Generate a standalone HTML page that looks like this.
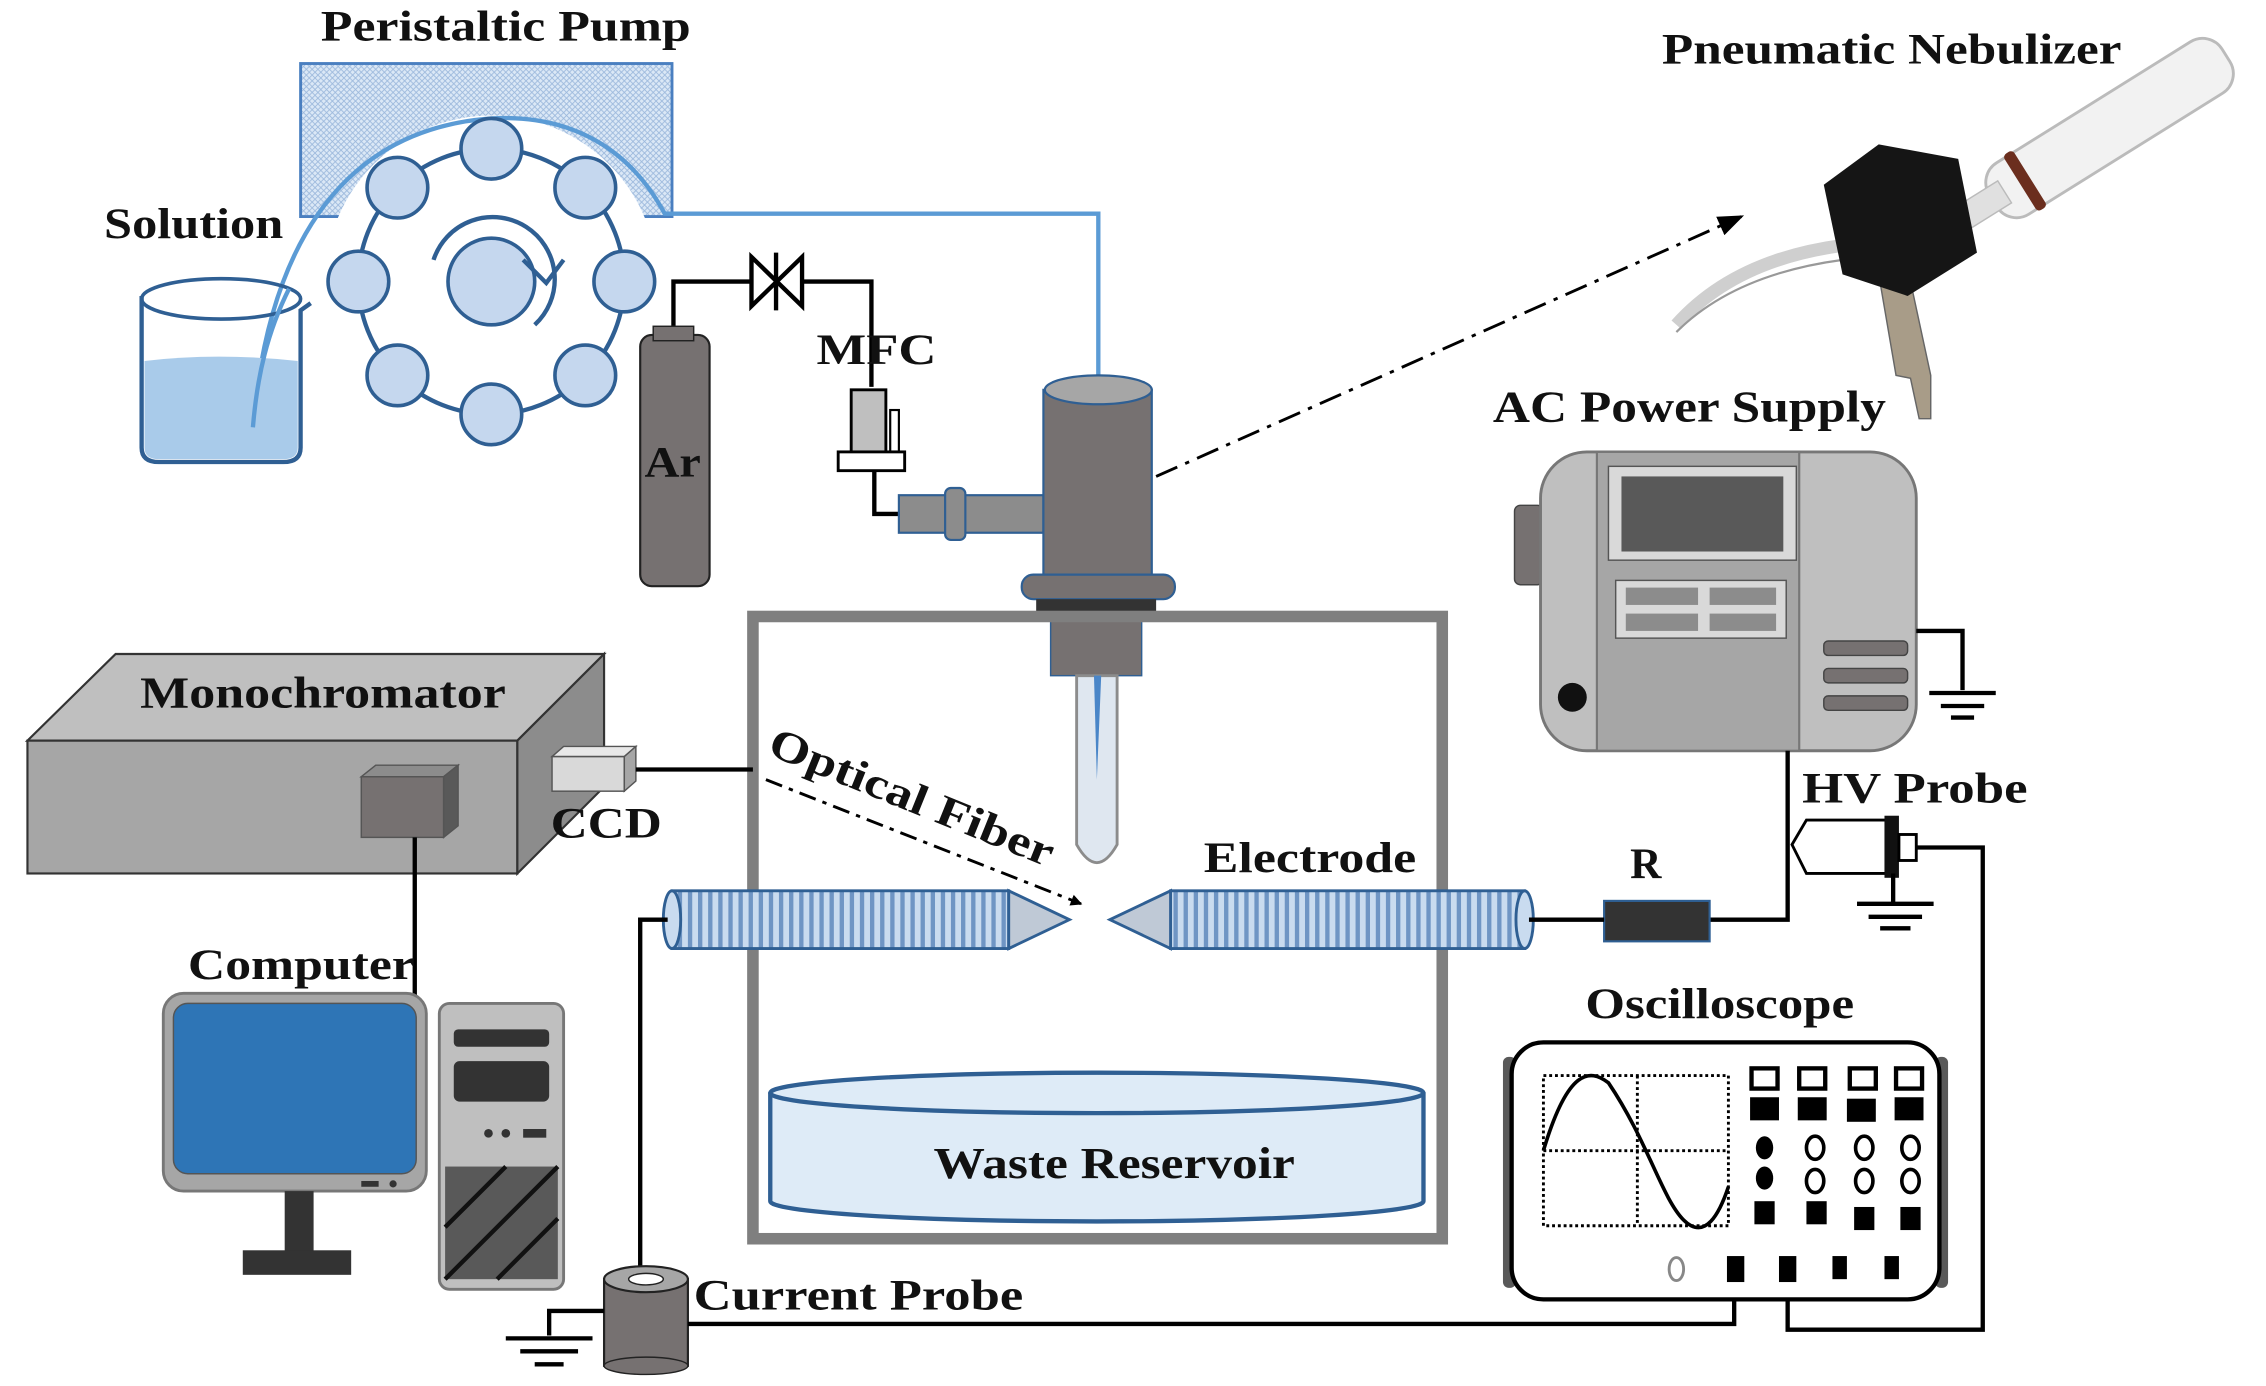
<!DOCTYPE html>
<html><head><meta charset="utf-8"><style>
html,body{margin:0;padding:0;background:#fff;}
svg{display:block}
text{font-family:"Liberation Serif",serif;font-weight:bold;fill:#111}
</style></head><body>
<svg width="2266" height="1386" viewBox="0 0 1568 960" preserveAspectRatio="none" xmlns="http://www.w3.org/2000/svg">
<defs>
<pattern id="hatch" width="4" height="4" patternUnits="userSpaceOnUse"><rect width="4" height="4" fill="#dbe8f6"/><path d="M0 0L4 4M4 0L0 4" stroke="#9bb8dc" stroke-width="0.6"/></pattern>
<pattern id="coil" width="7" height="40" patternUnits="userSpaceOnUse"><rect width="7" height="40" fill="#c9dbef"/><rect x="0" width="3" height="40" fill="#6f95c4"/></pattern>
<marker id="ah" markerWidth="8" markerHeight="8" refX="7" refY="4" orient="auto" markerUnits="userSpaceOnUse"><path d="M0 0L8 4L0 8z" fill="#000"/></marker>
<marker id="ah2" markerWidth="18" markerHeight="14" refX="16" refY="7" orient="auto" markerUnits="userSpaceOnUse"><path d="M0 0L18 7L0 14z" fill="#000"/></marker>
</defs>
<!-- Peristaltic pump -->
<rect x="208" y="44" width="257" height="106" fill="url(#hatch)" stroke="#4a7fc0" stroke-width="2"/>
<circle cx="340" cy="195" r="115" fill="#fff"/>
<path d="M175 295 C185 180 230 90 340 82 C420 78 450 130 460 148 L760 148 L760 262" fill="none" stroke="#5b9bd5" stroke-width="3"/>
<text x="222" y="28" font-size="30" textLength="256" lengthAdjust="spacingAndGlyphs">Peristaltic Pump</text>
<circle cx="340" cy="195" r="92" fill="none" stroke="#2f5f93" stroke-width="3"/>
<g fill="#c5d7ee" stroke="#2f5f93" stroke-width="2.5">
<circle cx="340" cy="103" r="21"/><circle cx="405" cy="130" r="21"/><circle cx="432" cy="195" r="21"/><circle cx="405" cy="260" r="21"/>
<circle cx="340" cy="287" r="21"/><circle cx="275" cy="260" r="21"/><circle cx="248" cy="195" r="21"/><circle cx="275" cy="130" r="21"/>
<circle cx="340" cy="195" r="30"/></g>
<path d="M300 180 A43 43 0 1 1 370 225" fill="none" stroke="#2f5f93" stroke-width="3"/>
<path d="M362 180 L378 196 L390 180" fill="none" stroke="#2f5f93" stroke-width="3"/>
<!-- Beaker -->
<text x="72" y="165" font-size="30" textLength="124" lengthAdjust="spacingAndGlyphs">Solution</text>
<path d="M98 205 L98 310 Q98 320 110 320 L196 320 Q208 320 208 310 L208 215 L215 210" fill="none" stroke="#2f5f93" stroke-width="3"/>
<path d="M100 250 Q150 244 206 250 L206 310 Q206 318 196 318 L110 318 Q100 318 100 310Z" fill="#a9cbea"/>
<ellipse cx="153" cy="207" rx="55" ry="14" fill="none" stroke="#2f5f93" stroke-width="2.5"/>
<path d="M175 296 C178 260 185 230 200 200" fill="none" stroke="#5b9bd5" stroke-width="3"/>
<!-- Ar & MFC -->
<path d="M466 230 L466 195 L603 195 L603 268" fill="none" stroke="#000" stroke-width="3"/>
<path d="M520 178 L555 212 L555 178 L520 212Z" fill="#fff" stroke="#000" stroke-width="3"/>
<line x1="537" y1="175" x2="537" y2="215" stroke="#000" stroke-width="3"/>
<rect x="443" y="232" width="48" height="174" rx="8" fill="#767171" stroke="#222" stroke-width="1.5"/>
<rect x="452" y="226" width="28" height="10" fill="#767171" stroke="#222"/>
<text x="446" y="330" font-size="30" textLength="39" lengthAdjust="spacingAndGlyphs">Ar</text>
<text x="565" y="252" font-size="30" font-weight="normal" textLength="83" lengthAdjust="spacingAndGlyphs">MFC</text>
<rect x="589" y="270" width="24" height="44" fill="#bfbfbf" stroke="#000" stroke-width="2"/>
<rect x="616" y="284" width="6" height="30" fill="#fff" stroke="#000" stroke-width="1.5"/>
<rect x="580" y="313" width="46" height="13" fill="#fff" stroke="#000" stroke-width="2"/>
<path d="M605 326 L605 356 L624 356" fill="none" stroke="#000" stroke-width="3"/>
<rect x="622" y="343" width="100" height="26" fill="#8c8c8c" stroke="#2f5f93" stroke-width="1.5"/>
<rect x="654" y="338" width="14" height="36" rx="4" fill="#8c8c8c" stroke="#2f5f93" stroke-width="1.5"/>
<!-- nebulizer body -->
<rect x="722" y="270" width="75" height="130" fill="#767171" stroke="#2f5f93" stroke-width="1.5"/>
<ellipse cx="760" cy="270" rx="37" ry="10" fill="#a6a6a6" stroke="#2f5f93" stroke-width="1.5"/>
<rect x="707" y="398" width="106" height="17" rx="8" fill="#767171" stroke="#2f5f93" stroke-width="1.5"/>
<rect x="717" y="415" width="83" height="13" fill="#333"/>
<rect x="727" y="428" width="63" height="40" fill="#767171" stroke="#2f5f93" stroke-width="1"/>
<path d="M745 468 L745 585 Q759 610 773 585 L773 468Z" fill="#dfe7f0" stroke="#8c8c8c" stroke-width="2"/>
<path d="M757 468 L759 540 L762 468Z" fill="#4a86c8"/>
<!-- dashed arrow to photo -->
<line x1="800" y1="330" x2="1205" y2="150" stroke="#000" stroke-width="2" stroke-dasharray="16,6,3,6" marker-end="url(#ah2)"/>
<!-- nebulizer photo -->
<path d="M1160 225 Q1200 180 1275 170" fill="none" stroke="#cfcfcf" stroke-width="9"/>
<path d="M1160 230 Q1200 190 1275 180" fill="none" stroke="#999" stroke-width="1.5"/>
<g transform="rotate(-32 1420 110)">
<rect x="1370" y="92" width="190" height="42" rx="16" fill="#f2f2f2" stroke="#bbb" stroke-width="2"/>
<rect x="1330" y="103" width="50" height="18" fill="#e0e0e0" stroke="#bbb"/>
<rect x="1392" y="90" width="8" height="46" rx="3" fill="#6b2e1e"/>
</g>
<path d="M1300 190 L1312 260 L1322 262 L1328 290 L1336 290 L1336 260 L1322 195Z" fill="#a89c88" stroke="#666"/>
<path d="M1262 128 L1300 100 L1355 110 L1368 175 L1320 205 L1275 190 Z" fill="#151515"/>
<text x="1150" y="44" font-size="30" textLength="318" lengthAdjust="spacingAndGlyphs">Pneumatic Nebulizer</text>
<!-- Chamber -->
<rect x="521" y="427" width="477" height="431" fill="none" stroke="#7f7f7f" stroke-width="8"/>
<path d="M533 758 L533 832 A226 14 0 0 0 985 832 L985 758Z" fill="#deebf7" stroke="#2f5f93" stroke-width="3"/>
<ellipse cx="759" cy="757" rx="226" ry="14" fill="#deebf7" stroke="#2f5f93" stroke-width="3"/>
<text x="646" y="816" font-size="31" textLength="250" lengthAdjust="spacingAndGlyphs">Waste Reservoir</text>
<!-- electrodes -->
<rect x="465" y="617" width="233" height="40" fill="url(#coil)" stroke="#2f5f93" stroke-width="2"/>
<ellipse cx="465" cy="637" rx="6" ry="20" fill="#c9dbef" stroke="#2f5f93" stroke-width="2"/>
<path d="M698 617 L740 637 L698 657Z" fill="#bfc9d6" stroke="#2f5f93" stroke-width="2"/>
<rect x="810" y="617" width="245" height="40" fill="url(#coil)" stroke="#2f5f93" stroke-width="2"/>
<ellipse cx="1055" cy="637" rx="6" ry="20" fill="#c9dbef" stroke="#2f5f93" stroke-width="2"/>
<path d="M810 617 L768 637 L810 657Z" fill="#bfc9d6" stroke="#2f5f93" stroke-width="2"/>
<text x="833" y="604" font-size="30" textLength="147" lengthAdjust="spacingAndGlyphs">Electrode</text>
<line x1="530" y1="540" x2="748" y2="626" stroke="#000" stroke-width="2" stroke-dasharray="12,5,3,5" marker-end="url(#ah)"/>
<text x="530" y="522" font-size="30" transform="rotate(22 530 522)" textLength="210" lengthAdjust="spacingAndGlyphs">Optical Fiber</text>
<!-- Monochromator -->
<path d="M19 513 L80 453 L418 453 L358 513Z" fill="#bfbfbf" stroke="#333" stroke-width="1.5"/>
<rect x="19" y="513" width="339" height="92" fill="#a6a6a6" stroke="#333" stroke-width="1.5"/>
<path d="M358 513 L418 453 L418 545 L358 605Z" fill="#8c8c8c" stroke="#333" stroke-width="1.5"/>
<text x="97" y="490" font-size="31" textLength="253" lengthAdjust="spacingAndGlyphs">Monochromator</text>
<rect x="250" y="538" width="57" height="42" fill="#767171" stroke="#555"/>
<path d="M250 538 L260 530 L317 530 L307 538Z" fill="#8c8c8c" stroke="#555"/>
<path d="M307 538 L317 530 L317 572 L307 580Z" fill="#595959" stroke="#555"/>
<rect x="382" y="524" width="50" height="24" fill="#d9d9d9" stroke="#555"/>
<path d="M382 524 L390 517 L440 517 L432 524Z" fill="#e8e8e8" stroke="#555"/>
<path d="M432 524 L440 517 L440 541 L432 548Z" fill="#a6a6a6" stroke="#555"/>
<text x="381" y="580" font-size="30" font-weight="normal" textLength="77" lengthAdjust="spacingAndGlyphs">CCD</text>
<line x1="440" y1="533" x2="521" y2="533" stroke="#000" stroke-width="3"/>
<line x1="287" y1="580" x2="287" y2="690" stroke="#000" stroke-width="3"/>
<!-- Computer -->
<text x="130" y="678" font-size="30" textLength="157" lengthAdjust="spacingAndGlyphs">Computer</text>
<rect x="113" y="688" width="182" height="137" rx="14" fill="#a6a6a6" stroke="#777" stroke-width="2"/>
<rect x="120" y="695" width="168" height="118" rx="10" fill="#2e75b6" stroke="#555"/>
<rect x="250" y="818" width="12" height="4" fill="#333"/><circle cx="272" cy="820" r="2.5" fill="#333"/>
<rect x="197" y="825" width="20" height="42" fill="#333"/>
<rect x="168" y="866" width="75" height="17" fill="#333"/>
<rect x="304" y="695" width="86" height="198" rx="7" fill="#bfbfbf" stroke="#777" stroke-width="2"/>
<rect x="314" y="713" width="66" height="12" rx="3" fill="#333"/>
<rect x="314" y="735" width="66" height="28" rx="4" fill="#333"/>
<circle cx="338" cy="785" r="3" fill="#333"/><circle cx="350" cy="785" r="3" fill="#333"/><rect x="362" y="782" width="16" height="6" fill="#333"/>
<rect x="308" y="808" width="78" height="78" fill="#595959"/>
<path d="M308 850 L350 808 M308 886 L386 808 M344 886 L386 844" stroke="#111" stroke-width="3"/>
<!-- current probe -->
<path d="M443 886 L443 637 L462 637" fill="none" stroke="#000" stroke-width="3"/>
<rect x="418" y="886" width="58" height="60" fill="#767171" stroke="#222" stroke-width="1.5"/>
<ellipse cx="447" cy="946" rx="29" ry="6" fill="#767171" stroke="#222"/>
<ellipse cx="447" cy="886" rx="29" ry="9" fill="#a6a6a6" stroke="#222" stroke-width="1.5"/>
<ellipse cx="447" cy="886" rx="12" ry="4" fill="#fff" stroke="#222"/>
<text x="480" y="907" font-size="30" textLength="228" lengthAdjust="spacingAndGlyphs">Current Probe</text>
<path d="M418 908 L380 908 L380 925" fill="none" stroke="#000" stroke-width="3"/>
<path d="M350 927 L410 927 M360 936 L400 936 M370 945 L390 945" stroke="#000" stroke-width="3"/>
<path d="M476 917 L1200 917 L1200 878" fill="none" stroke="#000" stroke-width="3"/>
<path d="M1237 878 L1237 921 L1372 921 L1372 587 L1325 587" fill="none" stroke="#000" stroke-width="3"/>
<!-- AC power supply -->
<text x="1033" y="292" font-size="31" textLength="272" lengthAdjust="spacingAndGlyphs">AC Power Supply</text>
<rect x="1048" y="350" width="20" height="55" rx="4" fill="#767171" stroke="#444"/>
<rect x="1066" y="313" width="260" height="207" rx="32" fill="#bfbfbf" stroke="#777" stroke-width="2"/>
<rect x="1105" y="313" width="140" height="207" fill="#a6a6a6" stroke="#777" stroke-width="1.5"/>
<rect x="1113" y="323" width="130" height="65" fill="#d9d9d9" stroke="#555"/>
<rect x="1122" y="330" width="112" height="52" fill="#595959"/>
<rect x="1118" y="402" width="118" height="40" fill="#d9d9d9" stroke="#555"/>
<g fill="#8c8c8c"><rect x="1125" y="407" width="50" height="12"/><rect x="1183" y="407" width="46" height="12"/><rect x="1125" y="425" width="50" height="12"/><rect x="1183" y="425" width="46" height="12"/></g>
<circle cx="1088" cy="483" r="10" fill="#111"/>
<g fill="#767171" stroke="#444"><rect x="1262" y="444" width="58" height="10" rx="3"/><rect x="1262" y="463" width="58" height="10" rx="3"/><rect x="1262" y="482" width="58" height="10" rx="3"/></g>
<path d="M1326 437 L1358 437 L1358 478" fill="none" stroke="#000" stroke-width="3"/>
<path d="M1335 480 L1381 480 M1343 489 L1373 489 M1350 497 L1366 497" stroke="#000" stroke-width="3"/>
<!-- HV probe & R -->
<path d="M1237 520 L1237 637 L1183 637" fill="none" stroke="#000" stroke-width="3"/>
<rect x="1110" y="624" width="73" height="28" fill="#333" stroke="#2f5f93" stroke-width="1.5"/>
<text x="1128" y="608" font-size="30" font-weight="normal">R</text>
<line x1="1058" y1="637" x2="1110" y2="637" stroke="#000" stroke-width="3"/>
<text x="1247" y="556" font-size="30" textLength="156" lengthAdjust="spacingAndGlyphs">HV Probe</text>
<path d="M1240 585 L1250 568 L1305 568 L1305 605 L1250 605Z" fill="#fff" stroke="#000" stroke-width="2"/>
<rect x="1304" y="565" width="10" height="43" fill="#111"/>
<rect x="1314" y="578" width="12" height="18" fill="#fff" stroke="#000" stroke-width="2"/>
<path d="M1310 605 L1310 625" stroke="#000" stroke-width="3"/>
<path d="M1285 626 L1338 626 M1293 635 L1330 635 M1301 643 L1322 643" stroke="#000" stroke-width="3"/>
<!-- Oscilloscope -->
<text x="1097" y="705" font-size="30" textLength="186" lengthAdjust="spacingAndGlyphs">Oscilloscope</text>
<rect x="1040" y="732" width="9" height="160" rx="4" fill="#595959"/><rect x="1339" y="732" width="9" height="160" rx="4" fill="#595959"/>
<rect x="1046" y="722" width="296" height="178" rx="22" fill="#fff" stroke="#000" stroke-width="3"/>
<g fill="none" stroke="#000" stroke-width="2" stroke-dasharray="2,2">
<rect x="1068" y="745" width="128" height="104"/><line x1="1133" y1="745" x2="1133" y2="849"/><line x1="1068" y1="797" x2="1196" y2="797"/></g>
<path d="M1068 797 C1085 740 1100 740 1113 750 C1140 790 1150 830 1165 845 C1180 860 1190 840 1196 822" fill="none" stroke="#000" stroke-width="2.5"/>
<g fill="#fff" stroke="#000" stroke-width="3"><rect x="1212" y="740" width="18" height="14"/><rect x="1245" y="740" width="18" height="14"/><rect x="1280" y="740" width="18" height="14"/><rect x="1312" y="740" width="18" height="14"/></g>
<g fill="#000"><rect x="1211" y="760" width="20" height="16"/><rect x="1244" y="760" width="20" height="16"/><rect x="1278" y="761" width="20" height="16"/><rect x="1311" y="760" width="20" height="16"/>
<ellipse cx="1221" cy="795" rx="6" ry="8"/><ellipse cx="1221" cy="816" rx="6" ry="8"/>
<rect x="1214" y="832" width="14" height="16"/><rect x="1250" y="832" width="14" height="16"/><rect x="1283" y="836" width="14" height="16"/><rect x="1315" y="836" width="14" height="16"/>
<rect x="1195" y="870" width="12" height="18"/><rect x="1231" y="870" width="12" height="18"/><rect x="1268" y="870" width="10" height="16"/><rect x="1304" y="870" width="10" height="16"/></g>
<g fill="none" stroke="#000" stroke-width="2.5"><ellipse cx="1256" cy="795" rx="6" ry="8"/><ellipse cx="1256" cy="818" rx="6" ry="8"/><ellipse cx="1290" cy="795" rx="6" ry="8"/><ellipse cx="1290" cy="818" rx="6" ry="8"/><ellipse cx="1322" cy="795" rx="6" ry="8"/><ellipse cx="1322" cy="818" rx="6" ry="8"/></g>
<ellipse cx="1160" cy="879" rx="5" ry="8" fill="none" stroke="#888" stroke-width="2"/>
</svg>
</body></html>
